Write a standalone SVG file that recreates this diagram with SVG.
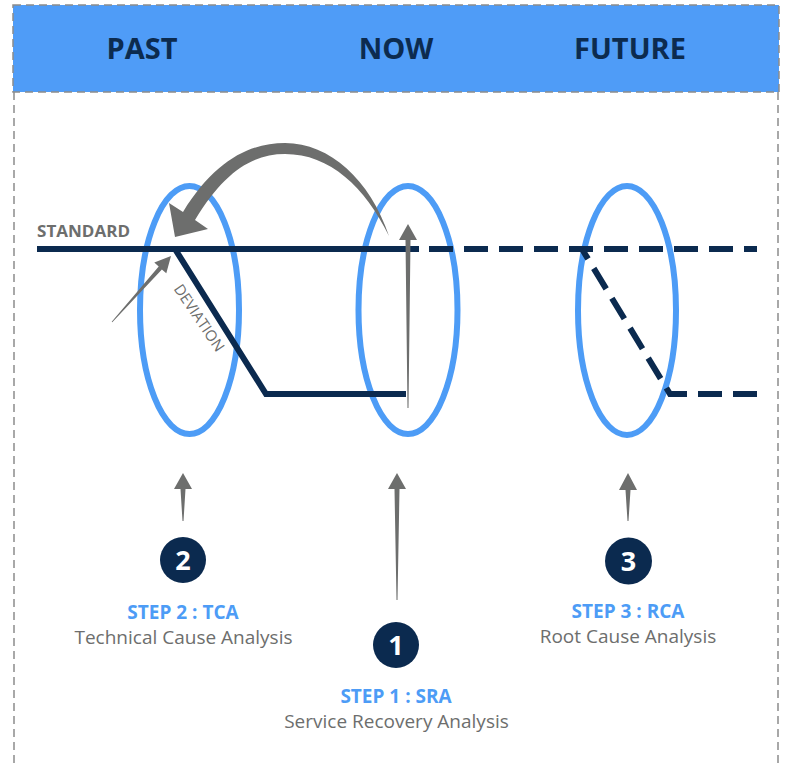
<svg xmlns="http://www.w3.org/2000/svg" width="785" height="767" viewBox="0 0 785 767">
<style>
.frame{fill:none;stroke:#8c8c8c;stroke-width:1.5;stroke-dasharray:8 5}
.hdr{font-family:"Open Sans","Liberation Sans",sans-serif;font-weight:bold;font-size:29px;fill:#0c2b4f;text-anchor:middle}
.ell{fill:none;stroke:#4d9cf6;stroke-width:6}
.line{fill:none;stroke:#0b2a4f;stroke-width:6}
.dash{stroke-dasharray:24 11}
.arrow{fill:#6d6e6d}
.lbl{font-family:"Open Sans","Liberation Sans",sans-serif;fill:#6d6e6d}
.num{fill:#0b2a4f}
.numt{font-family:"Open Sans","Liberation Sans",sans-serif;font-weight:bold;font-size:27px;fill:#ffffff;text-anchor:middle}
.step{font-family:"Open Sans","Liberation Sans",sans-serif;font-weight:bold;font-size:19px;fill:#4d9cf6;text-anchor:middle}
.desc{font-family:"Open Sans","Liberation Sans",sans-serif;font-size:19px;fill:#6d6e6d;text-anchor:middle}
</style>
<g id="header">
<rect x="13" y="5" width="766" height="87" fill="#4f9cf7"/>
<rect class="frame" x="13" y="5" width="766" height="87"/>
<line class="frame" x1="14" y1="92" x2="14" y2="767"/>
<line class="frame" x1="778" y1="92" x2="778" y2="767"/>
<text class="hdr" x="142" y="59">PAST</text>
<text class="hdr" x="396" y="59">NOW</text>
<text class="hdr" x="630" y="59">FUTURE</text>
</g>
<g id="ellipse-past"><ellipse class="ell" cx="189.5" cy="310" rx="49.5" ry="124"/></g>
<g id="ellipse-now"><ellipse class="ell" cx="408" cy="310" rx="49.5" ry="124"/></g>
<g id="ellipse-future"><ellipse class="ell" cx="627" cy="310.5" rx="49" ry="124.5"/></g>
<g id="connectors">
<path class="line" d="M37 249 H419"/>
<path class="line dash" d="M429 249 H757"/>
<path class="line" d="M175 249 L266 394 H406"/>
<path class="line dash" d="M757 394 H670 L582 249"/>
<path class="arrow" d="M183 212 C215 160 250 143 285 143 C330 143 370 180 389 236 C365 187 330 154 285 154 C252 154 224 172 195 220 L208 229 L175 237 L169 203 Z"/>
<path class="arrow" d="M171 256 L166.3 273.2 L161.9 269.4 L112.3 322.3 L111.7 321.7 L158.7 266.4 L154.3 262.6 Z"/>
<path class="arrow" d="M408 224 L417 240 L410.5 240 L408.5 408 L407.5 408 L405.5 240 L399 240 Z"/>
<path class="arrow" d="M183 473 L192 489 L185.5 489 L183.5 521 L182.5 521 L180.5 489 L174 489 Z"/>
<path class="arrow" d="M397 473 L406 489 L399.5 489 L397.5 600 L396.5 600 L394.5 489 L388 489 Z"/>
<path class="arrow" d="M628 473 L637 490 L630.5 490 L628.5 521 L627.5 521 L625.5 490 L619 490 Z"/>
</g>
<g id="labels">
<text class="lbl" x="37" y="237" font-size="15.5" font-weight="bold" textLength="93" lengthAdjust="spacingAndGlyphs">STANDARD</text>
<text class="lbl" font-size="15" text-anchor="middle" transform="translate(199 318) rotate(56)" dy="5">DEVIATION</text>
</g>
<g id="step2">
<circle class="num" cx="183" cy="560" r="23"/>
<text class="numt" x="183" y="569.5">2</text>
<text class="step" x="183" y="619">STEP 2 : TCA</text>
<text class="desc" x="183.5" y="644">Technical Cause Analysis</text>
</g>
<g id="step1">
<circle class="num" cx="396" cy="645" r="23"/>
<text class="numt" x="396" y="654.5">1</text>
<text class="step" x="396" y="703">STEP 1 : SRA</text>
<text class="desc" x="396.5" y="728">Service Recovery Analysis</text>
</g>
<g id="step3">
<circle class="num" cx="628.5" cy="561" r="23.5"/>
<text class="numt" x="628.5" y="570.5">3</text>
<text class="step" x="628" y="618">STEP 3 : RCA</text>
<text class="desc" x="628" y="643">Root Cause Analysis</text>
</g>
</svg>
